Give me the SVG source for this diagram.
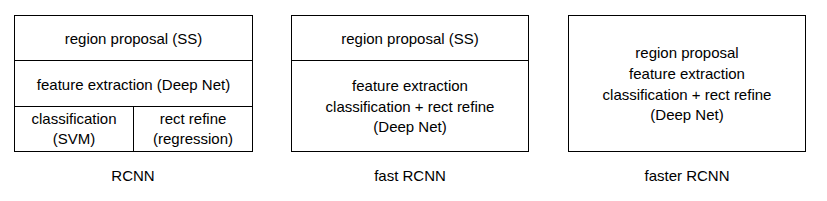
<svg xmlns="http://www.w3.org/2000/svg" width="827" height="201" viewBox="0 0 827 201">
<style>
.box{fill:#fff;stroke:#000;stroke-width:1}
.ln{stroke:#000;stroke-width:1;fill:none}
text{font-family:"Liberation Sans",Arial,sans-serif;font-size:15px;fill:#000;text-anchor:middle}
</style>
<rect width="827" height="201" fill="#fff"/>
<g id="rcnn">
<rect class="box" x="14.5" y="15.5" width="238" height="136"/>
<line class="ln" x1="14.5" y1="60.5" x2="252.5" y2="60.5"/>
<line class="ln" x1="14.5" y1="106.5" x2="252.5" y2="106.5"/>
<line class="ln" x1="133.5" y1="106.5" x2="133.5" y2="151.5"/>
<text x="133.5" y="43.5">region proposal (SS)</text>
<text x="133.5" y="89.5">feature extraction (Deep Net)</text>
<text x="74" y="123.5">classification</text>
<text x="74" y="144">(SVM)</text>
<text x="193" y="123.5">rect refine</text>
<text x="193" y="144">(regression)</text>
<text x="133" y="180.5">RCNN</text>
</g>
<g id="fast-rcnn">
<rect class="box" x="291.5" y="15.5" width="237" height="136"/>
<line class="ln" x1="291.5" y1="60.5" x2="528.5" y2="60.5"/>
<text x="410" y="43.5">region proposal (SS)</text>
<text x="410" y="91">feature extraction</text>
<text x="410" y="111.5">classification + rect refine</text>
<text x="410" y="132">(Deep Net)</text>
<text x="410" y="180.5">fast RCNN</text>
</g>
<g id="faster-rcnn">
<rect class="box" x="568.5" y="15.5" width="237" height="136"/>
<text x="687" y="57.5">region proposal</text>
<text x="687" y="78.5">feature extraction</text>
<text x="687" y="99.5">classification + rect refine</text>
<text x="687" y="120">(Deep Net)</text>
<text x="687" y="180.5">faster RCNN</text>
</g>
<g id="connectors"/>
</svg>
